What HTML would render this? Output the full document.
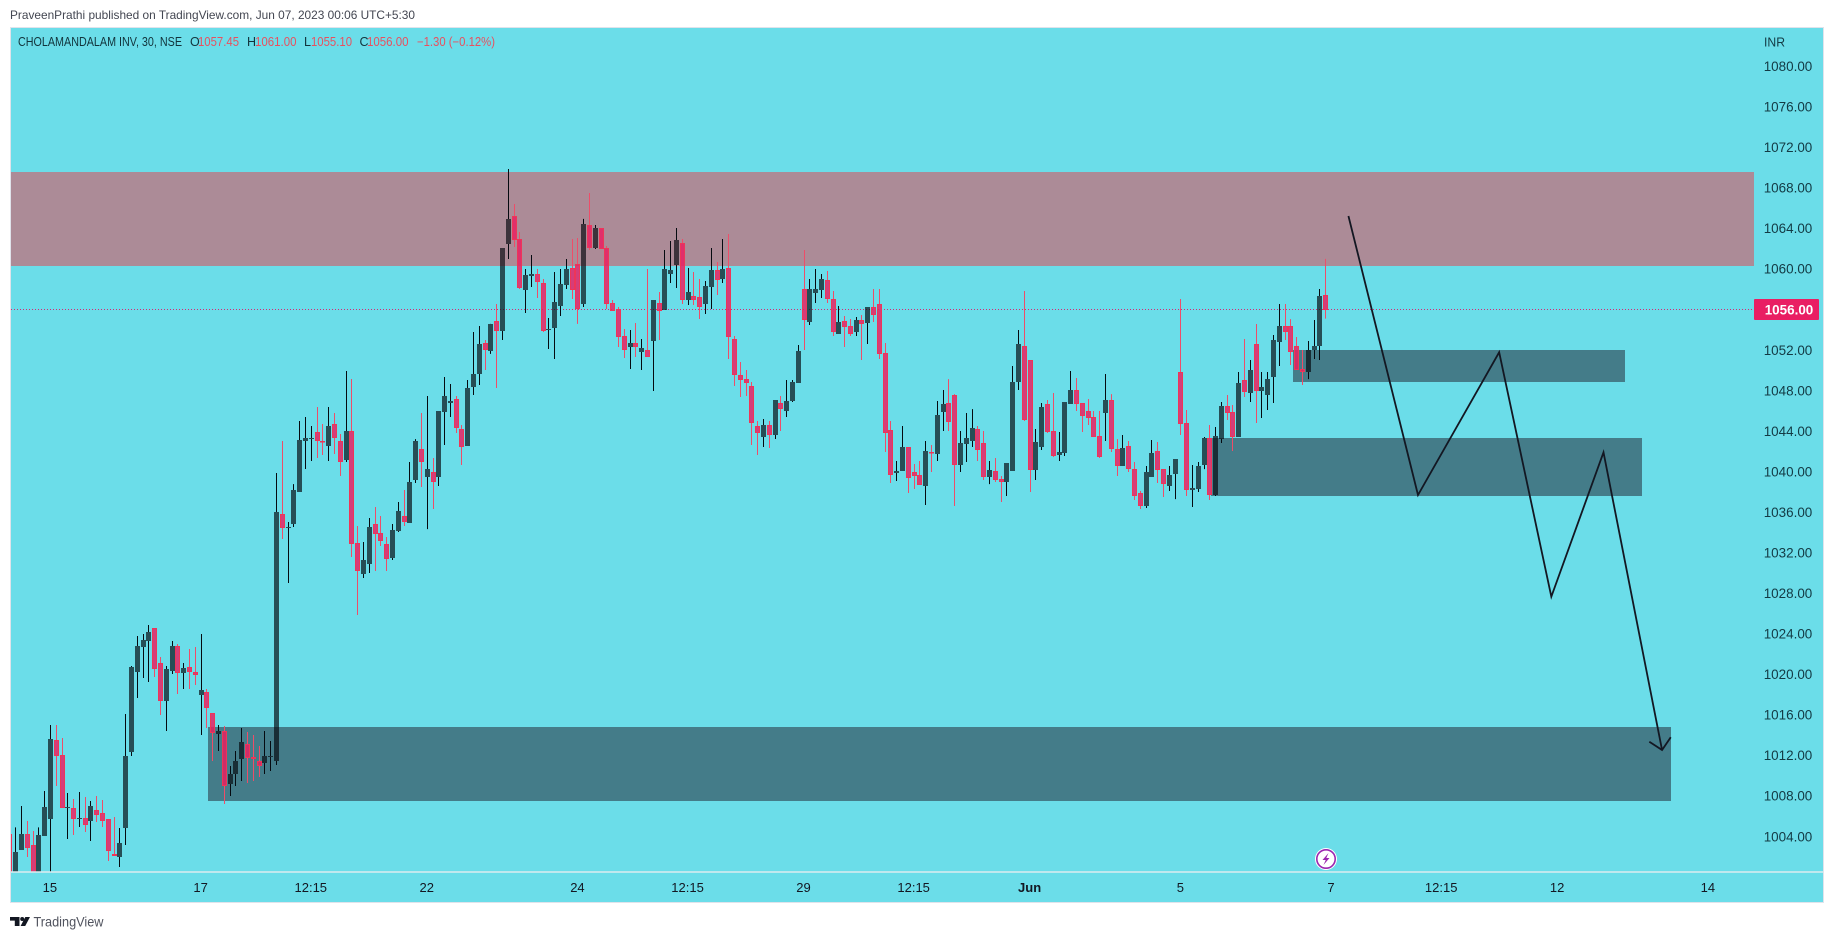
<!DOCTYPE html>
<html lang="en">
<head>
<meta charset="utf-8">
<title>CHOLAMANDALAM INV, 30, NSE</title>
<style>
html,body{margin:0;padding:0;background:#fff;width:1834px;height:939px;overflow:hidden}
svg{display:block}
text{font-family:"Liberation Sans",sans-serif}
</style>
</head>
<body>
<svg id="chart" xmlns="http://www.w3.org/2000/svg" width="1834" height="939" viewBox="0 0 1834 939">
  <text x="10" y="19" font-size="12" fill="#434651" textLength="405" lengthAdjust="spacingAndGlyphs">PraveenPrathi published on TradingView.com, Jun 07, 2023 00:06 UTC+5:30</text>
  <rect x="10.5" y="27.5" width="1813" height="875" fill="#6bdde9" stroke="#e0e3eb" stroke-width="1"/>
  <defs><clipPath id="plotClip"><rect x="11" y="28" width="1743" height="844"/></clipPath></defs>
  <g id="zones" clip-path="url(#plotClip)"></g>
  <line id="lastPriceLine" stroke="#d62a74" stroke-width="1" stroke-dasharray="1 2"/>
  <g id="candles" clip-path="url(#plotClip)"></g>
  <g id="drawings" clip-path="url(#plotClip)"></g>
  <line x1="11" y1="872" x2="1823" y2="872" stroke="#dcebef" stroke-width="1.5"/>
  <g id="priceAxis"></g>
  <g id="timeAxis"></g>
  <text x="1764" y="46.5" font-size="13" fill="#133a44" textLength="21" lengthAdjust="spacingAndGlyphs">INR</text>
  <g font-size="12.5">
    <text x="18" y="46" fill="#12343c" textLength="164" lengthAdjust="spacingAndGlyphs">CHOLAMANDALAM INV, 30, NSE</text>
    <text x="190" y="46" fill="#12343c">O</text>
    <text x="198" y="46" fill="#e8505f" textLength="41" lengthAdjust="spacingAndGlyphs">1057.45</text>
    <text x="247" y="46" fill="#12343c">H</text>
    <text x="255" y="46" fill="#e8505f" textLength="41.5" lengthAdjust="spacingAndGlyphs">1061.00</text>
    <text x="304" y="46" fill="#12343c">L</text>
    <text x="311" y="46" fill="#e8505f" textLength="41" lengthAdjust="spacingAndGlyphs">1055.10</text>
    <text x="359.5" y="46" fill="#12343c">C</text>
    <text x="367" y="46" fill="#e8505f" textLength="41.5" lengthAdjust="spacingAndGlyphs">1056.00</text>
    <text x="417" y="46" fill="#e8505f" textLength="78" lengthAdjust="spacingAndGlyphs">−1.30 (−0.12%)</text>
  </g>
  <g id="priceTag"></g>
  <g>
    <circle cx="1326" cy="859" r="11" fill="#fff"/>
    <circle cx="1326" cy="859" r="9.2" fill="#fff" stroke="#9c27b0" stroke-width="1.6"/>
    <polygon points="1328.5,853 1322.5,860 1325.7,860 1323.5,865 1329.5,858 1326.3,858" fill="#9c27b0"/>
  </g>
  <g>
    <polygon points="10,917 19.5,917 19.5,926 14.8,926 14.8,920.6 10,920.6" fill="#131722"/>
    <circle cx="22.2" cy="919" r="2" fill="#131722"/>
    <polygon points="25.3,917 30,917 25.2,926 20.6,926" fill="#131722"/>
    <text x="33.5" y="926.5" font-size="14" fill="#50535e" textLength="70" lengthAdjust="spacingAndGlyphs">TradingView</text>
  </g>
</svg>
<script>
const opens = [
1004.25,1000,1002.67,1004.25,1003.17,999.8,1004.05,1005.73,1013.53,1012.05,
1006.82,1006.82,1005.73,1005.83,1005.53,1006.62,1006.32,1005.73,1002.28,1001.98,
1004.84,1012.34,1020.24,1022.70,1023.29,1024.58,1021.12,1017.37,1020.34,1022.80,
1020.14,1020.73,1020.24,1017.97,1018.26,1016.19,1014.12,1014.41,1009.18,1010.17,
1011.65,1013.13,1011.85,1011.45,1011.26,1011.85,1011.46,1035.83,1034.44,1034.84,
1038.0,1043.03,1043.22,1043.92,1043.03,1042.53,1044.71,1043.03,1041.15,1044.02,
1032.96,1029.90,1030.89,1034.84,1033.95,1032.86,1031.48,1034.15,1035.63,1034.94,
1039.18,1042.24,1039.48,1039.97,1039.48,1045.89,1046.78,1047.17,1044.21,1042.53,
1048.36,1049.64,1052.70,1051.91,1054.87,1053.88,1062.47,1065.23,1062.96,1057.93,
1059.31,1059.51,1058.62,1053.98,1054.18,1056.35,1058.42,1060.10,1060.49,1056.55,
1064.34,1062.07,1064.05,1062.07,1056.65,1056.02,1053.39,1052.31,1052.70,1051.81,
1052.01,1052.90,1056.65,1055.96,1059.51,1060.40,1062.56,1056.94,1057.34,1057.24,
1056.55,1058.22,1059.90,1059.01,1060.10,1053.09,1049.54,1049.15,1048.46,1044.51,
1043.42,1044.61,1043.62,1046.78,1045.99,1046.98,1048.75,1058.03,1054.77,1057.63,
1057.93,1058.92,1057.04,1053.59,1054.87,1054.38,1053.78,1054.97,1054.67,1056.25,
1056.55,1051.71,1044.11,1039.87,1040.07,1042.44,1039.97,1039.67,1038.59,1041.94,
1041.74,1045.89,1046.78,1047.57,1040.66,1042.73,1043.03,1044.21,1042.83,1039.48,
1040.07,1039.28,1038.98,1040.07,1048.85,1052.40,1051.02,1040.17,1042.44,1046.68,
1044.01,1041.65,1041.84,1046.68,1048.06,1046.78,1045.99,1045.40,1043.52,1045.79,
1047.07,1042.24,1040.56,1042.53,1040.26,1037.90,1036.61,1039.48,1042.04,1040.26,
1038.59,1039.77,1049.84,1044.80,1038.19,1038.29,1040.66,1043.32,1037.70,1043.22,
1046.48,1045.89,1043.42,1049.05,1047.76,1052.60,1047.96,1047.57,1049.34,1052.80,
1054.37,1054.37,1052.40,1050.13,1049.84,1052.01,1052.40,1057.45];
const highs = [
1004.25,1004.91,1007.01,1005.53,1004.55,1004.91,1008.49,1015.01,1015.01,1013.72,
1008.30,1007.70,1008.40,1007.90,1007.51,1008.0,1007.61,1005.73,1005.93,1004.84,
1016.09,1020.83,1023.79,1023.99,1024.87,1024.58,1021.72,1020.83,1023.29,1023.0,
1021.12,1022.51,1022.70,1023.99,1018.56,1016.19,1015.01,1014.91,1010.96,1012.44,
1014.71,1014.32,1014.02,1012.93,1014.41,1013.43,1039.87,1043.03,1035.04,1038.78,
1045.0,1045.40,1044.51,1046.38,1044.71,1046.38,1045.79,1043.72,1049.93,1049.15,
1034.64,1033.06,1035.43,1036.52,1035.63,1033.56,1034.84,1037.01,1038.19,1040.96,
1043.22,1045.79,1047.47,1041.35,1045.99,1049.34,1048.65,1047.47,1044.61,1049.05,
1053.78,1054.38,1053.0,1054.58,1056.55,1062.07,1069.87,1066.41,1063.65,1060.0,
1061.38,1060.0,1059.01,1055.17,1059.70,1060.0,1060.99,1062.96,1063.06,1064.94,
1067.50,1064.34,1064.05,1062.27,1056.94,1056.25,1054.08,1053.98,1054.67,1053.09,
1060.0,1056.94,1057.73,1061.88,1062.76,1064.05,1062.96,1060.10,1059.70,1059.01,
1058.82,1062.07,1060.69,1062.96,1063.45,1053.39,1050.82,1050.04,1048.85,1045.0,
1045.20,1045.0,1047.07,1047.47,1049.05,1049.05,1052.50,1061.88,1059.01,1060.0,
1059.51,1059.80,1057.83,1056.35,1055.36,1055.07,1055.27,1055.46,1056.25,1058.03,
1058.03,1052.70,1045.0,1041.05,1044.51,1042.44,1040.76,1041.05,1043.03,1042.63,
1046.97,1048.06,1049.14,1047.66,1044.01,1045.79,1046.18,1044.51,1044.01,1041.05,
1041.35,1039.57,1040.86,1050.43,1053.98,1057.83,1051.02,1044.21,1046.78,1047.07,
1047.76,1043.92,1046.88,1049.93,1049.24,1046.78,1047.17,1045.99,1045.99,1049.64,
1047.66,1043.22,1043.62,1043.03,1040.96,1038.09,1040.56,1043.13,1042.93,1040.26,
1040.56,1041.25,1057.04,1046.09,1040.66,1040.96,1043.42,1044.61,1044.41,1046.88,
1047.57,1046.58,1049.84,1053.09,1051.02,1054.57,1049.84,1049.84,1053.49,1056.55,
1056.55,1055.06,1053.29,1052.01,1052.89,1054.97,1058.03,1061.00];
const lows = [
999.5,999.5,1002.67,1001.98,999.5,999.5,1004.05,999.5,1008.99,1006.82,
1003.76,1004.15,1004.94,1004.45,1003.56,1005.44,1004.94,1001.59,1002.08,1001.0,
1003.17,1011.95,1017.67,1019.64,1019.25,1019.74,1015.99,1014.41,1020.04,1018.07,
1018.56,1018.56,1018.95,1014.02,1014.71,1011.45,1012.44,1007.21,1008.0,1008.99,
1009.48,1009.28,1009.48,1009.88,1010.17,1010.47,1011.06,1033.36,1029.02,1034.54,
1038.0,1040.27,1041.05,1041.35,1041.65,1041.05,1041.75,1039.57,1040.96,1031.58,
1025.86,1029.51,1030.0,1030.20,1032.67,1030.20,1031.29,1034.05,1034.64,1034.94,
1038.88,1038.49,1034.34,1036.32,1038.59,1042.63,1045.40,1043.82,1040.66,1042.53,
1047.57,1048.56,1050.04,1051.62,1048.26,1053.0,1060.99,1062.17,1058.03,1055.66,
1058.22,1057.14,1053.78,1052.11,1051.12,1055.36,1058.03,1057.04,1054.58,1056.25,
1061.88,1061.97,1061.97,1056.05,1055.86,1052.31,1051.22,1050.13,1051.32,1050.04,
1051.32,1047.96,1053.0,1055.96,1058.62,1058.13,1056.55,1056.45,1056.45,1055.07,
1055.56,1056.05,1057.43,1058.62,1051.12,1048.46,1047.37,1047.47,1042.63,1041.65,
1042.44,1042.34,1043.23,1044.02,1045.40,1046.88,1048.75,1052.01,1054.47,1056.65,
1057.14,1056.65,1053.39,1053.59,1052.31,1053.39,1053.39,1051.02,1052.60,1054.77,
1051.12,1041.94,1038.88,1039.08,1040.07,1037.90,1038.29,1038.69,1036.71,1039.97,
1041.05,1044.01,1044.01,1036.61,1039.97,1040.96,1042.44,1041.05,1039.18,1038.78,
1038.98,1037.01,1037.60,1040.07,1048.06,1045.0,1038.0,1039.18,1042.14,1043.82,
1041.45,1041.05,1041.55,1046.68,1045.99,1043.92,1044.61,1043.42,1041.35,1043.03,
1041.94,1039.57,1040.56,1039.97,1037.21,1036.32,1036.42,1039.48,1038.88,1037.50,
1038.09,1037.30,1043.62,1037.60,1036.52,1038.0,1040.26,1037.21,1037.60,1042.83,
1045.10,1042.04,1043.42,1047.37,1046.88,1044.80,1045.30,1046.09,1046.78,1050.43,
1052.99,1050.53,1050.03,1048.55,1049.14,1051.12,1051.02,1055.10];
const closes = [
1000,1002.48,1004.25,1002.87,999.8,1004.15,1006.92,1013.62,1011.95,1006.82,
1006.92,1005.73,1005.83,1005.14,1007.01,1006.13,1005.53,1002.57,1002.08,1003.36,
1011.95,1020.73,1022.80,1023.39,1024.18,1020.53,1017.37,1020.53,1022.80,1020.14,
1020.63,1020.24,1019.94,1018.46,1016.68,1014.22,1014.41,1008.99,1010.17,1011.45,
1013.33,1011.75,1011.65,1010.96,1011.95,1011.95,1036.02,1034.44,1034.54,1038.19,
1043.13,1043.32,1043.32,1043.03,1042.93,1044.51,1043.32,1040.96,1044.02,1032.86,
1030.20,1031.29,1034.54,1033.85,1033.16,1031.38,1034.25,1036.12,1035.04,1038.98,
1043.03,1040.96,1040.27,1038.98,1045.99,1047.47,1046.97,1044.31,1042.44,1048.26,
1049.64,1052.60,1052.01,1054.58,1053.88,1062.07,1064.94,1062.86,1058.13,1059.41,
1059.51,1058.72,1053.88,1054.08,1056.74,1058.52,1060.0,1057.93,1056.05,1064.44,
1062.07,1064.05,1061.97,1056.55,1055.86,1053.29,1052.01,1052.70,1052.31,1052.21,
1051.32,1056.94,1055.86,1060.0,1059.90,1062.86,1056.94,1057.73,1056.94,1056.25,
1058.32,1059.90,1058.92,1060.0,1053.29,1049.54,1049.05,1048.75,1044.80,1043.82,
1044.61,1043.62,1047.07,1046.19,1046.98,1048.85,1051.91,1054.97,1058.03,1058.03,
1059.01,1057.04,1053.78,1054.77,1054.28,1053.59,1054.97,1054.58,1056.25,1055.46,
1051.62,1043.82,1039.67,1040.07,1042.44,1039.38,1039.57,1038.69,1042.04,1041.84,
1045.59,1046.68,1044.90,1040.66,1042.83,1043.32,1044.31,1042.14,1039.48,1040.17,
1039.18,1038.98,1040.86,1048.85,1052.60,1045.10,1040.17,1042.93,1046.38,1043.92,
1041.55,1041.94,1046.88,1048.06,1046.68,1045.49,1045.30,1043.42,1041.45,1047.07,
1042.24,1040.56,1042.34,1040.26,1037.60,1036.61,1039.97,1041.84,1040.17,1038.78,
1039.67,1041.25,1044.70,1038.19,1038.39,1040.56,1043.32,1037.70,1043.52,1046.48,
1045.79,1043.42,1048.75,1047.86,1050.03,1047.96,1048.36,1049.14,1052.99,1054.37,
1053.78,1051.81,1050.03,1049.84,1052.01,1052.40,1057.33,1056.00];

const priceTicks = ["1080.00","1076.00","1072.00","1068.00","1064.00","1060.00","1052.00","1048.00","1044.00","1040.00","1036.00","1032.00","1028.00","1024.00","1020.00","1016.00","1012.00","1008.00","1004.00"];
const timeTickBars = [7,33,52,72,98,117,137,156,176,202,228,247,267,293];
const timeTickLabels = ["15","17","12:15","22","24","12:15","29","12:15","Jun","5","7","12:15","12","14"];
const lastPrice = 1056.00;

const supplyZonePrices = [1069.57,1060.30];
const demandZoneStartBars = [34.27,207.3,221.4];
const demandZoneEndBars = [286.6,281.6,278.7];
const demandZoneTops = [1014.81,1043.33,1052.01];
const demandZoneBottoms = [1007.51,1037.60,1048.85];

const pathBars = [231.0,243.0,257.0,266.0,275.0,285.1];
const pathPrices = [1065.23,1037.70,1051.78,1027.67,1041.91,1012.54];
const arrowHeadBars = [282.9,285.1,286.6];
const arrowHeadPrices = [1013.36,1012.54,1013.80];

const SVGNS = "http://www.w3.org/2000/svg";
function xScale(bar){ return 9.33 + 5.797 * bar; }
function yScale(price){ return 269 + (1060 - price) * 10.135; }
function make(tag, attrs, parent){
  const el = document.createElementNS(SVGNS, tag);
  for (const k in attrs) el.setAttribute(k, attrs[k]);
  parent.appendChild(el);
  return el;
}

const zonesG = document.getElementById("zones");
const supplyTop = Math.round(yScale(supplyZonePrices[0]));
const supplyBottom = Math.round(yScale(supplyZonePrices[1]));
const supplyEl = make("rect", {x:11, y:supplyTop, width:1743, height:supplyBottom-supplyTop, fill:"#ac8b97"}, zonesG);


demandZoneTops.forEach(function(top, i){
  const x0 = Math.round(xScale(demandZoneStartBars[i]));
  const x1 = Math.round(xScale(demandZoneEndBars[i]));
  const y0 = Math.round(yScale(top));
  const y1 = Math.round(yScale(demandZoneBottoms[i]));
  const zoneEl = make("rect", {x:x0, y:y0, width:x1-x0, height:y1-y0, fill:"#447c89"}, zonesG);
  
  
});

const priceLine = document.getElementById("lastPriceLine");
const lastY = Math.floor(yScale(lastPrice)) + 0.5;
priceLine.setAttribute("x1", 11);
priceLine.setAttribute("x2", 1754);
priceLine.setAttribute("y1", lastY);
priceLine.setAttribute("y2", lastY);

const candlesG = document.getElementById("candles");
opens.forEach(function(open, i){
  const close = closes[i];
  const up = close >= open;
  const cx = Math.round(xScale(i));
  const top = Math.round(yScale(Math.max(open, close)));
  const bottom = Math.round(yScale(Math.min(open, close)));
  const h = Math.max(1, bottom - top);
  const wickX = cx + 0.5;
  const wickD = "M" + wickX + " " + yScale(highs[i]) + "V" + top + "M" + wickX + " " + (top + h) + "V" + yScale(lows[i]);
  const wickEl = make("path", {d: wickD, fill: "none", "stroke-width": 1, stroke: up ? "#050a10" : "#ee4d69"}, candlesG);
  
  
  const bodyEl = make("rect", {
    x: cx - 2, y: top, width: 5, height: h,
    fill: up ? "rgba(4,7,13,0.67)" : "rgba(233,30,99,0.84)"
  }, candlesG);
  
  
  if (!up) {
    bodyEl.setAttribute("stroke", "#ee3558");
    bodyEl.setAttribute("x", cx - 1.5);
    bodyEl.setAttribute("y", top + 0.5);
    bodyEl.setAttribute("width", 4);
    bodyEl.setAttribute("height", Math.max(0.5, h - 1));
  }
});

const drawingsG = document.getElementById("drawings");
const pathPts = pathBars.map(function(b, i){ return xScale(b) + "," + yScale(pathPrices[i]); }).join(" ");
const pathEl = make("polyline", {points:pathPts, fill:"none", stroke:"#131722", "stroke-width":1.8, "stroke-linejoin":"miter"}, drawingsG);


const headPts = arrowHeadBars.map(function(b, i){ return xScale(b) + "," + yScale(arrowHeadPrices[i]); }).join(" ");
const headEl = make("polyline", {points:headPts, fill:"none", stroke:"#131722", "stroke-width":1.8}, drawingsG);



const priceAxisG = document.getElementById("priceAxis");
priceTicks.forEach(function(label){
  const t = make("text", {x:1763.7, y:yScale(parseFloat(label)) + 4.7, "font-size":13.5, fill:"#133a44", textLength:48.6, lengthAdjust:"spacingAndGlyphs"}, priceAxisG);
  t.textContent = label;
  
  
});

const timeAxisG = document.getElementById("timeAxis");
timeTickBars.forEach(function(bar, i){
  const label = timeTickLabels[i];
  const t = make("text", {x:xScale(bar), y:892, "font-size":13, fill:"#131722", "text-anchor":"middle", "font-weight": label === "Jun" ? "bold" : "normal"}, timeAxisG);
  t.textContent = label;
  
  
});

const tagG = document.getElementById("priceTag");
const tagY = yScale(lastPrice);
const tagRect = make("rect", {x:1754, y:Math.round(tagY) - 11, width:65, height:21, rx:1, fill:"#e91e63"}, tagG);


const tagText = make("text", {x:1764.7, y:tagY + 5, "font-size":13.5, "font-weight":"bold", fill:"#fff", textLength:48.6, lengthAdjust:"spacingAndGlyphs"}, tagG);
tagText.textContent = lastPrice.toFixed(2);


</script>
</body>
</html>
